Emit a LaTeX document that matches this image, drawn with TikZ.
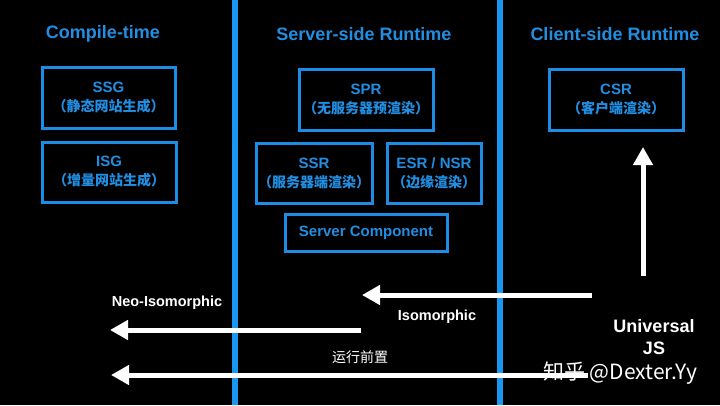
\documentclass[tikz,border=0pt]{standalone}
\usepackage{fontspec}
\setmainfont{Liberation Sans}
\newfontfamily\cjk{Noto Sans CJK SC}
\usetikzlibrary{arrows.meta}
\definecolor{lineblue}{RGB}{24,150,240}
\definecolor{boxblue}{RGB}{28,140,228}
\definecolor{txtblue}{RGB}{34,142,226}
\tikzset{
  coltitle/.style={text=txtblue,font=\fontsize{18}{21}\selectfont\bfseries},
  modebox/.style={draw=boxblue,line width=3pt,text=txtblue,align=center,inner sep=0pt,
    font=\fontsize{15}{19}\selectfont\bfseries},
  sepline/.style={lineblue,line width=6pt},
  flowarrow/.style={white,line width=5pt,-{Triangle[length=18pt,width=19pt]}},
  flowlabel/.style={text=white,font=\fontsize{14.5}{17}\selectfont\bfseries},
}
\newcommand{\zh}[1]{{\cjk\fontsize{14}{19}\selectfont #1}}
\begin{document}
\begin{tikzpicture}[x=1pt,y=-1pt]
\fill[black] (0,0) rectangle (720,405);
\useasboundingbox (0,0) rectangle (720,405);
% separators
\draw[sepline] (235,0) -- (235,405);
\draw[sepline] (499.5,0) -- (499.5,405);
% titles
\node[coltitle] (t1) at (103,34) {Compile-time};
\node[coltitle] (t2) at (364,34) {Server-side Runtime};
\node[coltitle] (t3) at (615,34) {Client-side Runtime};
% boxes
\node[modebox,minimum width=133pt,minimum height=61pt] (ssg) at (108.5,97.5) {SSG\\\zh{（静态网站生成）}};
\node[modebox,minimum width=134pt,minimum height=60pt] (isg) at (109,172) {ISG\\\zh{（增量网站生成）}};
\node[modebox,minimum width=134pt,minimum height=61pt] (spr) at (366,99.5) {SPR\\\zh{（无服务器预渲染）}};
\node[modebox,minimum width=116pt,minimum height=60pt] (ssr) at (314,173) {SSR\\\zh{（服务器端渲染）}};
\node[modebox,minimum width=94pt,minimum height=60pt] (esr) at (434,173) {ESR / NSR\\\zh{（边缘渲染）}};
\node[modebox,minimum width=162pt,minimum height=37pt] (sc) at (366,232.5) {Server Component};
\node[modebox,minimum width=134pt,minimum height=61pt] (csr) at (616,99.5) {CSR\\\zh{（客户端渲染）}};
% arrow end points
\coordinate (upS) at (643,276);
\coordinate (upE) at (643,147);
\coordinate (isoS) at (592,295);
\coordinate (isoE) at (362,295);
\coordinate (neoS) at (361,330);
\coordinate (neoE) at (110,330);
\coordinate (runS) at (588,375);
\coordinate (runE) at (111,375);
% arrows
\draw[flowarrow] (upS) -- (upE);
\draw[flowarrow] (isoS) -- (isoE);
\draw[flowarrow] (neoS) -- (neoE);
\draw[flowarrow] (runS) -- (runE);
% labels
\node[flowlabel] (iso) at (437,317) {Isomorphic};
\node[flowlabel] (neo) at (167,303) {Neo-Isomorphic};
\node[text=white,font={\cjk\fontsize{14}{17}\selectfont}] (run) at (360,357) {运行前置};
\node[text=white,align=center,font=\fontsize{18}{22}\selectfont\bfseries] (ujs) at (654,337) {Universal\\JS};
\node[text=white,font={\cjk\fontsize{21}{24}\selectfont}] (wm) at (620,373) {知乎 @Dexter.Yy};
\end{tikzpicture}
\end{document}
